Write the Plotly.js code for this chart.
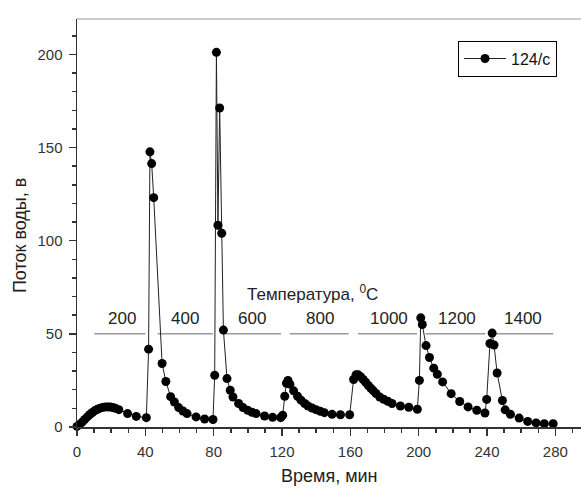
<!DOCTYPE html>
<html>
<head>
<meta charset="utf-8">
<script src="https://cdn.plot.ly/plotly-3.0.1.min.js"></script>
<style>html,body{margin:0;padding:0;background:#fff;}#chart{width:581px;height:488px;}</style>
</head>
<body>
<div id="chart"></div>
<script>
// Time, min
const timeMin = [0,1.5,3,4.5,6,7.5,9,10.5,12,13.5,15,16.5,18,19.5,21,22.5,24.5,29.6,34.7,40.6,
  41.9,42.7,43.7,44.9,49.8,52,54.8,57,59.5,62,64.4,69.7,74.7,79.6,
  80.6,81.6,82.5,83.5,84.7,85.7,87.8,89.7,91.3,94.6,97.2,99.9,102.4,104.8,109.8,114.5,119.2,
  120.4,121.6,122.6,123.5,124.6,126.8,129.1,131.1,133.3,135.2,137.6,139.9,142.4,144.8,149.3,154.2,159.6,
  161.9,163.3,164.6,166,167.5,169,170.5,172,173.5,175,177.2,179.5,181.9,184.4,189.3,194.2,199.2,
  200.4,201.2,202.1,204.3,206.3,208.8,210.9,214,219,224,228.9,234,238.8,
  239.8,241.7,243,244.1,245.9,249,250.6,253.7,258.8,263.8,268.7,273.5,278.7];
// Water flow
const flow = [0.3,1.4,2.6,4.0,5.4,6.7,7.8,8.8,9.5,10.1,10.5,10.8,10.8,10.7,10.4,10.0,9.3,7.2,5.7,5.0,
  41.8,147.7,141.4,123.1,34.1,24.4,16.3,13.4,10.4,8.6,7.2,5.4,4.3,4.0,
  27.8,201.1,108.3,171.2,104.0,52.0,26.0,19.7,16.1,12.6,10.4,9.0,7.9,7.2,5.9,5.2,5.0,
  6.3,16.5,23.5,25.0,23.0,19.4,16.5,14.4,12.6,11.3,10.2,9.3,8.4,7.7,6.8,6.6,6.6,
  25.5,28.0,28.0,27.0,25.5,24.0,22.3,20.8,19.4,18.0,16.1,14.9,13.8,12.6,11.3,10.6,9.5,
  25.0,58.6,55.0,43.7,37.3,31.6,28.3,24.2,17.9,13.7,10.8,9.0,7.5,
  14.8,44.8,50.4,44.0,29.0,14.2,9.2,6.8,4.8,3.0,2.2,1.8,1.8];
const seriesName = "124/c";

// Temperature stages
const tempLabels = ["200","400","600","800","1000","1200","1400"];
const tempStart = [10.2, 47.2, 85.5, 124.5, 164.5, 204, 244.5];
const tempEnd   = [40, 79.6, 119.4, 159, 199, 239, 278.7];
const tempLabelX = [26.1, 63, 102.6, 142.4, 182.6, 222.6, 261];
const tempLevel = 50;
const tempLabelLevel = 58.3;
const tempTitle = "Температура, <sup>0</sup>C";
const tempTitlePos = [137.8, 71.7];

const xTitle = "Время, мин";
const yTitle = "Поток воды, в";

const font = "Liberation Sans, Arial, sans-serif";

// build segment trace
const segX = [], segY = [];
for (let i = 0; i < tempStart.length; i++) {
  segX.push(tempStart[i], tempEnd[i], null);
  segY.push(tempLevel, tempLevel, null);
}

const traces = [
  {x: segX, y: segY, mode: 'lines', line: {color: '#9a9a9a', width: 1.5}, showlegend: false, hoverinfo: 'skip'},
  {x: timeMin, y: flow, mode: 'lines+markers', name: seriesName,
   line: {color: '#222', width: 1},
   marker: {color: '#000', size: 9}, cliponaxis: false}
];

const annotations = tempLabels.map((t, i) => ({
  x: tempLabelX[i], y: tempLabelLevel, xref: 'x', yref: 'y', text: t, showarrow: false,
  font: {family: font, size: 17, color: '#222'}
}));
annotations.push({x: tempTitlePos[0], y: tempTitlePos[1], xref: 'x', yref: 'y', text: tempTitle,
  showarrow: false, font: {family: font, size: 17, color: '#222'}});
// axis titles placed precisely
annotations.push({x: 0.5, y: -0.12, xref: 'paper', yref: 'paper', text: xTitle, showarrow: false,
  xanchor: 'center', yanchor: 'middle', font: {family: font, size: 18, color: '#222'}});
annotations.push({x: -0.113, y: 0.468, xref: 'paper', yref: 'paper', text: yTitle, showarrow: false,
  textangle: -90, xanchor: 'center', yanchor: 'middle', font: {family: font, size: 18, color: '#222'}});

const layout = {
  width: 581, height: 488,
  margin: {l: 77, r: 0, t: 19, b: 61.3},
  paper_bgcolor: '#fff', plot_bgcolor: '#fff',
  font: {family: font, size: 15, color: '#222'},
  showlegend: true,
  legend: {x: 0.756, y: 0.947, xanchor: 'left', yanchor: 'top', bgcolor: '#fff',
           bordercolor: '#000', borderwidth: 1, font: {family: font, size: 16, color: '#111'},
           itemwidth: 42},
  xaxis: {range: [0, 295], tickvals: [0,40,80,120,160,200,240,280], ticks: 'outside', ticklen: 7,
          tickwidth: 1.5, tickcolor: '#333', showline: true, linecolor: '#333', linewidth: 1.5,
          showgrid: false, zeroline: false, ticklabelstandoff: 3,
          minor: {dtick: 10, tick0: 0, ticks: 'outside', ticklen: 4, tickwidth: 1.5, tickcolor: '#333', showgrid: false},
          tickfont: {family: font, size: 15, color: '#333'}},
  yaxis: {range: [0, 219], tickvals: [0,50,100,150,200], ticks: 'outside', ticklen: 7,
          tickwidth: 1.5, tickcolor: '#333', showline: true, linecolor: '#333', linewidth: 1.5,
          showgrid: false, zeroline: false, ticklabelstandoff: 3,
          minor: {dtick: 10, tick0: 0, ticks: 'outside', ticklen: 4, tickwidth: 1.5, tickcolor: '#333', showgrid: false},
          tickfont: {family: font, size: 15, color: '#333'}},
  shapes: [{type: 'line', xref: 'paper', yref: 'paper', x0: 0, x1: 1, y0: 1, y1: 1,
            line: {color: '#bbb', width: 1.5}}],
  annotations: annotations
};

Plotly.newPlot('chart', traces, layout, {displayModeBar: false, staticPlot: true});
</script>
</body>
</html>
